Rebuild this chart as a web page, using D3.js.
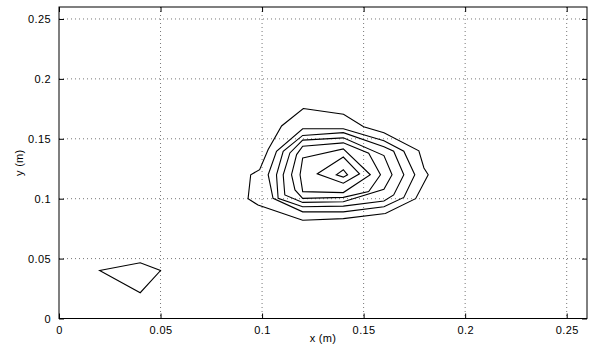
<!DOCTYPE html>
<html><head><meta charset="utf-8">
<script src="https://cdn.jsdelivr.net/npm/d3@7"></script>
<style>body{margin:0;background:#fff}svg{display:block}text{font-family:"Liberation Sans",Arial,Helvetica,sans-serif;font-size:11px;fill:#000}</style>
</head><body><svg id="c" width="589" height="350"></svg>
<script>
const xTicks = [0, 0.05, 0.1, 0.15, 0.2, 0.25];
const yTicks = [0, 0.05, 0.1, 0.15, 0.2, 0.25];
const xTickLabels = ["0", "0.05", "0.1", "0.15", "0.2", "0.25"];
const yTickLabels = ["0", "0.05", "0.1", "0.15", "0.2", "0.25"];
const xLabel = "x (m)";
const yLabel = "y (m)";

const contour1 = [[0.1203,0.1753],[0.1401,0.1705],[0.15,0.16],[0.16,0.1551],[0.1772,0.14],[0.1797,0.1256],[0.1818,0.12],[0.1756,0.10],[0.1607,0.0876],[0.14,0.0834],[0.12,0.082],[0.098,0.0947],[0.0931,0.10],[0.0944,0.12],[0.0988,0.1242],[0.103,0.141],[0.1096,0.1607]];
const contour2 = [[0.12,0.1584],[0.14,0.1584],[0.16,0.1483],[0.1698,0.1396],[0.1752,0.12],[0.1698,0.1011],[0.16,0.0933],[0.14,0.089],[0.12,0.089],[0.1054,0.1003],[0.103,0.12],[0.1071,0.1396]];
const contour3 = [[0.12,0.1528],[0.14,0.1551],[0.16,0.1433],[0.1648,0.1396],[0.1698,0.12],[0.1648,0.1031],[0.16,0.098],[0.14,0.0938],[0.12,0.0933],[0.1079,0.1003],[0.1071,0.12],[0.1104,0.1396]];
const contour4 = [[0.12,0.1489],[0.14,0.1508],[0.16,0.136],[0.164,0.12],[0.16,0.1079],[0.14,0.0975],[0.12,0.0969],[0.1112,0.1031],[0.1104,0.12],[0.1137,0.1382]];
const contour5 = [[0.12,0.1438],[0.14,0.1466],[0.1525,0.138],[0.1583,0.12],[0.1525,0.106],[0.14,0.1011],[0.12,0.1003],[0.1162,0.1073],[0.1145,0.12],[0.117,0.1368]];
const contour6 = [[0.12,0.134],[0.14,0.1416],[0.1533,0.12],[0.14,0.1051],[0.12,0.1059],[0.1187,0.12]];
const contour7 = [[0.1272,0.1208],[0.14,0.1348],[0.148,0.1208],[0.14,0.1129]];
const contour8 = [[0.1365,0.1199],[0.14,0.1242],[0.1421,0.1199],[0.14,0.118]];
const contour9 = [[0.02,0.04],[0.04,0.0465],[0.05,0.04],[0.04,0.0215]];
const contours = [contour1, contour2, contour3, contour4, contour5, contour6, contour7, contour8, contour9];

const W = 589, H = 350;
const L = 59, R = 587, T = 7, B = 318.5;
const x = d3.scaleLinear().domain([0, 0.26]).range([L, R]);
const y = d3.scaleLinear().domain([0, 0.26]).range([B, T]);
const svg = d3.select("#c");

// grid
const g = svg.append("g");
g.selectAll("line.gx").data(xTicks.slice(1)).join("line")
  .attr("x1", d => x(d)).attr("x2", d => x(d)).attr("y1", T).attr("y2", B)
  .attr("stroke", "#777").attr("stroke-dasharray", "1,3");
g.selectAll("line.gy").data(yTicks.slice(1)).join("line")
  .attr("y1", d => y(d)).attr("y2", d => y(d)).attr("x1", L).attr("x2", R)
  .attr("stroke", "#777").attr("stroke-dasharray", "1,3");

// contours
const line = d3.line().x(d => x(d[0])).y(d => y(d[1])).curve(d3.curveLinearClosed);
svg.append("g").selectAll("path").data(contours).join("path")
  .attr("d", line).attr("fill", "none").attr("stroke", "#000").attr("stroke-width", 1.1)
  .attr("stroke-linejoin", "miter");

// axes
const tl = 5;
svg.append("g").attr("transform", `translate(0,${B})`)
  .call(d3.axisBottom(x).tickValues(xTicks).tickFormat((d,i) => xTickLabels[i]).tickSizeInner(-tl).tickSizeOuter(0).tickPadding(8));
svg.append("g").attr("transform", `translate(0,${T})`)
  .call(d3.axisTop(x).tickValues(xTicks).tickFormat("").tickSizeInner(-tl).tickSizeOuter(0));
svg.append("g").attr("transform", `translate(${L},0)`)
  .call(d3.axisLeft(y).tickValues(yTicks).tickFormat((d,i) => yTickLabels[i]).tickSizeInner(-tl).tickSizeOuter(0).tickPadding(8));
svg.append("g").attr("transform", `translate(${R},0)`)
  .call(d3.axisRight(y).tickValues(yTicks).tickFormat("").tickSizeInner(-tl).tickSizeOuter(0));
svg.selectAll(".domain").remove();
svg.selectAll(".tick line").attr("stroke", "#000");
svg.selectAll(".tick text").attr("font-size", 11).attr("letter-spacing", "0.4px")
  .attr("font-family", "Liberation Sans, Arial, sans-serif");
svg.append("rect").attr("x", L).attr("y", T).attr("width", R - L).attr("height", B - T)
  .attr("fill", "none").attr("stroke", "#000").attr("stroke-width", 1);

svg.append("text").attr("x", (L + R) / 2).attr("y", 342).attr("text-anchor", "middle").attr("letter-spacing", "0.3px").text(xLabel);
svg.append("text").attr("transform", `translate(23,${(T + B) / 2}) rotate(-90)`).attr("text-anchor", "middle").attr("letter-spacing", "0.3px").text(yLabel);
</script></body></html>
